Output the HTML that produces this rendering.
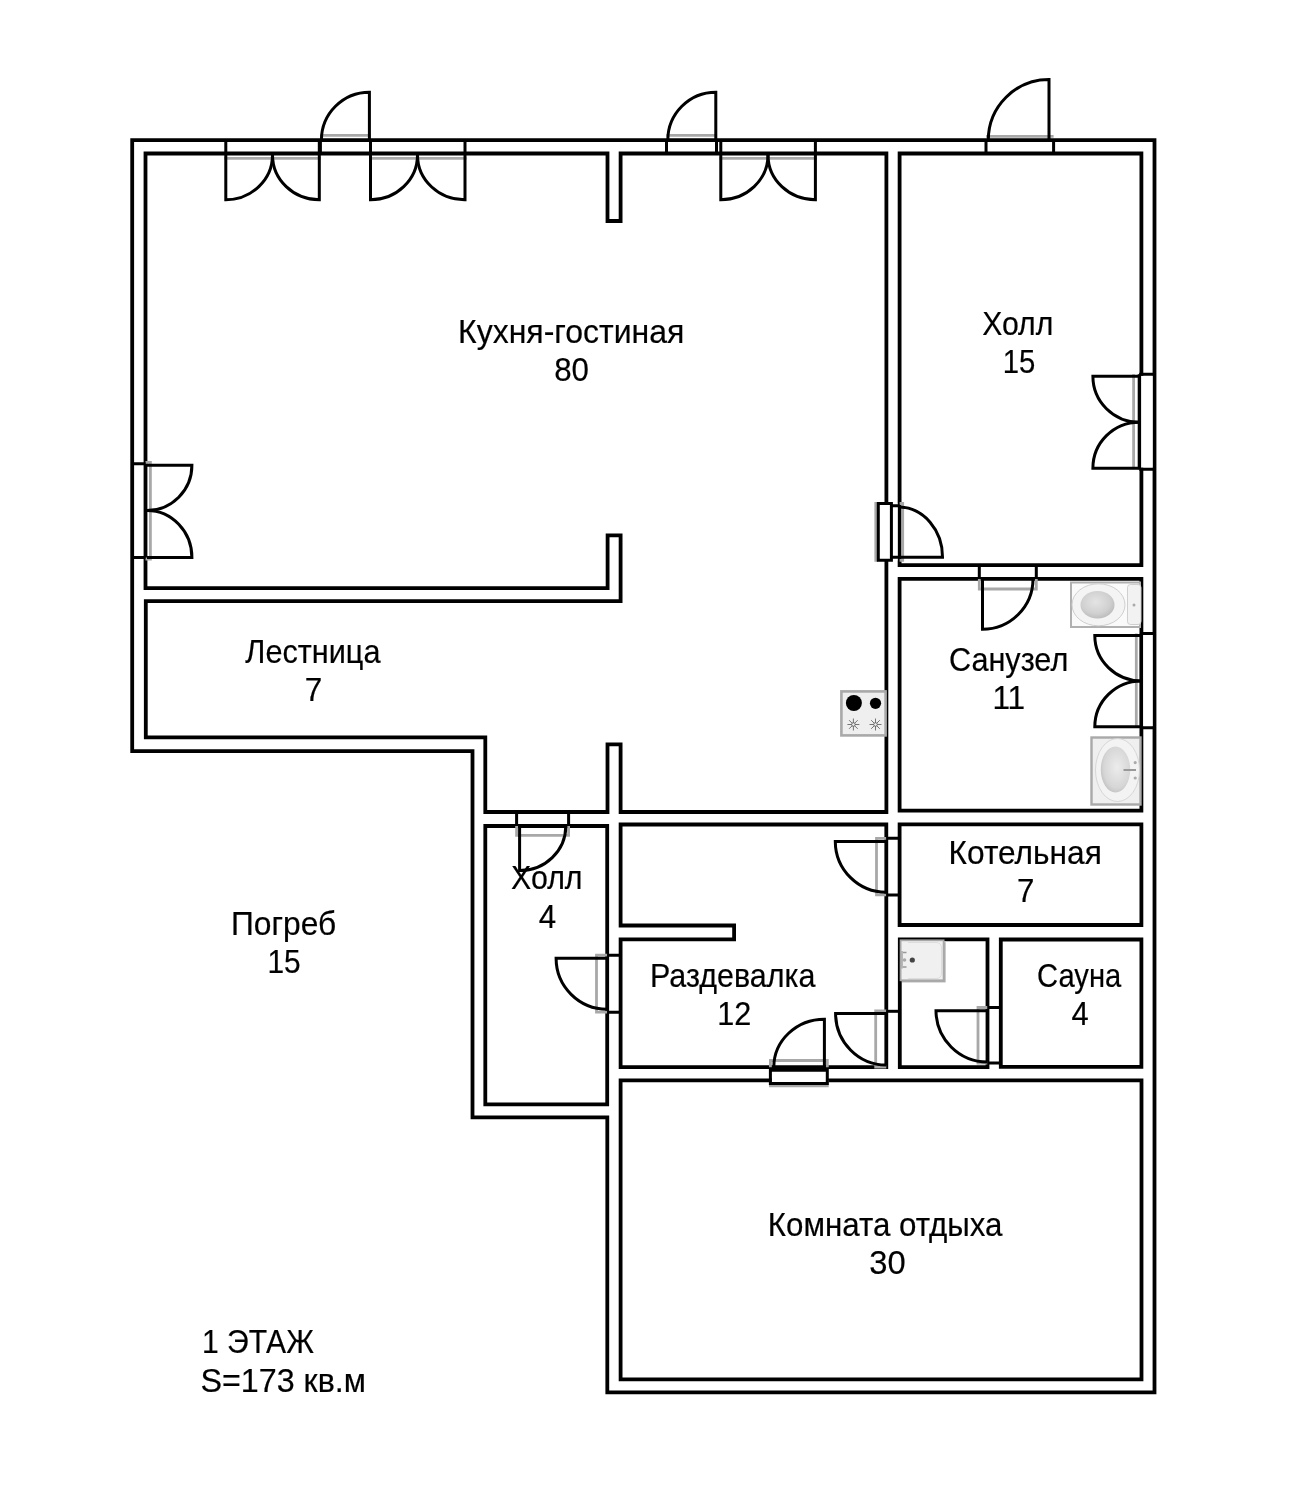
<!DOCTYPE html>
<html><head><meta charset="utf-8"><title>1 этаж</title>
<style>html,body{margin:0;padding:0;background:#fff;} svg{display:block;will-change:transform;}</style>
</head><body>
<svg width="1307" height="1494" viewBox="0 0 1307 1494"><g fill="none" stroke="#000" stroke-width="3.8" stroke-linejoin="miter">
<path d="M132.2,140.2 H1154.5 V1392.3 H607.3 V1117.4 H472.5 V751.2 H132.2 Z"/>
<path d="M145.5,153.5 H607.5 V221 H620.6 V153.5 H886.4 V812 H620.6 V744.4 H607.5 V812 H485.3 V737.3 H145.8 V601.2 H620.6 V535.3 H607.6 V588.2 H145.5 Z"/>
<path d="M899.6,153.5 H1141.4 V565.2 H899.6 Z"/>
<path d="M899.6,578.8 H1141.4 V810.6 H899.6 Z"/>
<path d="M899.6,824.3 H1141.4 V925 H899.6 Z"/>
<path d="M485.3,826 H607.2 V1104.4 H485.3 Z"/>
<path d="M620.6,824.5 H886.3 V1067.2 H620.6 V939.3 H734.1 V925.5 H620.6 Z"/>
<path d="M899.8,939.4 H987.5 V1067.1 H899.8 Z"/>
<path d="M1000.8,939.5 H1141.4 V1066.9 H1000.8 Z"/>
<path d="M620.6,1080.3 H1141.5 V1379.3 H620.6 Z"/>
</g>
<rect x="1141.1000000000001" y="375.8" width="11.499999999999863" height="91.89999999999998" fill="#fff"/>
<rect x="1143.2" y="635.0" width="9.399999999999954" height="91.29999999999995" fill="#fff"/>
<rect x="878" y="503.5" width="19.5" height="57" fill="#fff"/>
<rect x="772" y="1072" width="54" height="10" fill="#fff"/>
<g fill="none" stroke="#a8a8a8" stroke-width="2.8">
<path d="M224.3,158.4 H320.8"/>
<path d="M369.0,158.4 H466.5"/>
<path d="M719.3,158.4 H816.9"/>
<path d="M320.4,135.4 H370.5"/>
<path d="M666.5,135.4 H716.5"/>
<path d="M986.0,136.4 H1053.6"/>
<path d="M145.5,462.3 H150.4 V559.0 H145.5"/>
<path d="M1133.6,374.3 V469.2"/>
<path d="M1136.3,633.5 V727.8"/>
<path d="M878.3,503.5 H875.8 V560.3 H878.3 M899.6,503.5 H902.7 V560.3 H899.6"/>
<path d="M979.3,579 V589 H1036.3 V579"/>
<path d="M516.6,826 V835.4 H568.6 V826"/>
<path d="M607.2,955.2 H596.5 V1012.2 H607.2"/>
<path d="M886.3,838.3 H876.5 V894.9 H886.3"/>
<path d="M886.3,1010.8 H875.7 V1067 H886.3"/>
<path d="M987.5,1007.5 H978 V1063 H987.5"/>
<path d="M770.4,1067.2 V1060.5 H827.3 V1067.2 M770.4,1080 V1085.9 H827.3 V1080"/>
</g>
<g fill="none" stroke="#000" stroke-width="3.0">
<path d="M225.8,140.2 V153.5 M319.3,140.2 V153.5"/>
<path d="M225.8,155 V199.7 A46.69999999999999,44.69999999999999 0 0 0 272.5,155"/>
<path d="M319.3,155 V199.7 A46.69999999999999,44.69999999999999 0 0 1 272.5,155"/>
<path d="M370.5,140.2 V153.5 M465.0,140.2 V153.5"/>
<path d="M370.5,155 V199.7 A47.0,44.69999999999999 0 0 0 417.5,155"/>
<path d="M465.0,155 V199.7 A47.0,44.69999999999999 0 0 1 417.5,155"/>
<path d="M720.8,140.2 V153.5 M815.4,140.2 V153.5"/>
<path d="M720.8,155 V199.7 A47.200000000000045,44.69999999999999 0 0 0 768.0,155"/>
<path d="M815.4,155 V199.7 A47.200000000000045,44.69999999999999 0 0 1 768.0,155"/>
<path d="M320.4,140.2 V153.5 M370.5,140.2 V153.5"/>
<path d="M369.4,141.5 V92.19999999999999 A48,48 0 0 0 321.4,140.2"/>
<path d="M666.5,140.2 V153.5 M716.5,140.2 V153.5"/>
<path d="M715.8,141.5 V92.19999999999999 A48,48 0 0 0 667.8,140.2"/>
<path d="M986.0,140.2 V153.5 M1053.6,140.2 V153.5"/>
<path d="M1049.0,141.5 V79.49999999999999 A60.7,60.7 0 0 0 988.3,140.2"/>
<path d="M132.2,463.8 H145.5 M132.2,557.5 H145.5"/>
<path d="M147,465.3 H191.9 A44.900000000000006,45.19999999999999 0 0 1 147,510.5"/>
<path d="M147,557.5 H191.9 A44.900000000000006,47.0 0 0 0 147,510.5"/>
<path d="M1139.2,374.3 H1154.5 M1139.2,469.2 H1154.5 M1139.2,374.3 V469.2"/>
<path d="M1139.2,376.3 H1092.9 A46.299999999999955,45.89999999999998 0 0 0 1139.2,422.2"/>
<path d="M1139.2,468.2 H1092.9 A46.299999999999955,46.0 0 0 1 1139.2,422.2"/>
<path d="M1141.3,633.5 H1154.5 M1141.3,727.8 H1154.5 M1141.3,633.5 V727.8"/>
<path d="M1141.3,635.5 H1094.8 A46.5,45.39999999999998 0 0 0 1141.3,680.9"/>
<path d="M1141.3,726.8 H1094.8 A46.5,45.89999999999998 0 0 1 1141.3,680.9"/>
<path d="M878.3,503.5 H891.4 V560.3 H878.3 Z"/>
<path d="M891.4,505.8 H899.6 M891.4,557.2 H942.5 A44,50 0 0 0 899.6,507"/>
<path d="M979.3,565.2 V578.8 M1036.3,565.2 V578.8"/>
<path d="M982.5,579 V629.2 A50.5,50.2 0 0 0 1033,579"/>
<path d="M516.6,812 V826 M568.6,812 V826"/>
<path d="M519.6,826 V870.6 A46,44.6 0 0 0 565.8,826"/>
<path d="M607.2,955.2 H620.6 M607.2,1012.2 H620.6"/>
<path d="M607.2,958.3 H556.1 A51,51 0 0 0 607.2,1009.2"/>
<path d="M886.3,838.3 H899.6 M886.3,894.9 H899.6"/>
<path d="M886.3,841.4 H835.3 A51,51 0 0 0 886.3,892.2"/>
<path d="M886.3,1011.3 H899.8"/>
<path d="M886.3,1013.6 H835.6 A50.7,51.5 0 0 0 886.3,1065"/>
<path d="M987.5,1007.5 H1000.8 M987.5,1063 H1000.8"/>
<path d="M987.5,1010.7 H936 A51.5,51.5 0 0 0 987.5,1062"/>
<path d="M770.4,1070.3 H827.3 V1083.4 H770.4 Z"/>
<path d="M824.4,1067.2 V1019.2 A50.6,48 0 0 0 773.8,1067.2"/>
</g>
<rect x="841.4" y="691.4" width="44.2" height="44" fill="#efefef" stroke="#a9a9a9" stroke-width="2.6"/>
<circle cx="853.9" cy="703" r="8" fill="#000"/><circle cx="875.5" cy="703.3" r="5.6" fill="#000"/>
<g stroke="#555" stroke-width="0.8" fill="none"><path d="M847.4,724.5 H859.4 M853.4,718.5 V730.5 M849.1,720.2 L857.6999999999999,728.8 M849.1,728.8 L857.6999999999999,720.2"/><circle cx="853.4" cy="724.5" r="1.8" fill="#eee"/></g>
<g stroke="#555" stroke-width="0.8" fill="none"><path d="M869.5,724.5 H881.5 M875.5,718.5 V730.5 M871.2,720.2 L879.8,728.8 M871.2,728.8 L879.8,720.2"/><circle cx="875.5" cy="724.5" r="1.8" fill="#eee"/></g>
<rect x="1071" y="582.5" width="69" height="44.5" fill="#fafafa" stroke="#b0b0b0" stroke-width="2"/>
<defs><radialGradient id="bowl" cx="0.45" cy="0.4" r="0.6"><stop offset="0" stop-color="#e4e4e4"/><stop offset="0.7" stop-color="#d0d0d0"/><stop offset="1" stop-color="#bdbdbd"/></radialGradient><radialGradient id="sinkg" cx="0.55" cy="0.45" r="0.6"><stop offset="0" stop-color="#ececec"/><stop offset="0.75" stop-color="#d6d6d6"/><stop offset="1" stop-color="#c0c0c0"/></radialGradient></defs>
<rect x="1127.5" y="584.5" width="13.5" height="40" rx="3" fill="#f2f2f2" stroke="#cfcfcf" stroke-width="1"/>
<circle cx="1134" cy="605" r="1.5" fill="#aaa"/>
<ellipse cx="1098.5" cy="604.8" rx="26.5" ry="21" fill="#f4f4f4" stroke="#cfcfcf" stroke-width="1"/>
<ellipse cx="1097.5" cy="604.8" rx="17" ry="13.8" fill="url(#bowl)"/>
<rect x="1091.5" y="737.5" width="49" height="67" fill="#efefef" stroke="#a9a9a9" stroke-width="2.4"/>
<ellipse cx="1117.5" cy="770" rx="22" ry="31.5" fill="#f3f3f3" stroke="#cfcfcf" stroke-width="0.8"/>
<ellipse cx="1115.5" cy="769.5" rx="14.7" ry="23" fill="url(#sinkg)"/>
<path d="M1123.5,770 H1136" stroke="#999" stroke-width="2"/>
<circle cx="1135.2" cy="762.6" r="1.6" fill="#aaa"/><circle cx="1135.2" cy="778" r="1.6" fill="#aaa"/>
<rect x="902" y="942.2" width="43.6" height="40.2" fill="#ababab"/>
<rect x="900.6" y="940.3" width="43" height="40" fill="#f0f0f0" stroke="#a8a8a8" stroke-width="1.8"/>
<path d="M908,942.5 H936 Q941.5,942.5 941.5,948 V973 Q941.5,978.5 936,978.5 H908" fill="none" stroke="#d8d8d8" stroke-width="0.8"/>
<circle cx="912.3" cy="960" r="2.6" fill="#444"/>
<path d="M902,951 V968.4" stroke="#b0b0b0" stroke-width="1.8"/><path d="M903,952.5 H906.5 M903,967 H906.5" stroke="#999" stroke-width="1.6"/><circle cx="904.5" cy="960" r="1.8" fill="#aaa"/>
<g font-family="Liberation Sans, sans-serif" fill="#000" stroke="#000" stroke-width="0.2" stroke-linejoin="round" font-size="33">
<text x="458.09" y="342.8" textLength="226.3" lengthAdjust="spacingAndGlyphs">Кухня-гостиная</text>
<text x="554.15" y="381.3" textLength="34.77" lengthAdjust="spacingAndGlyphs">80</text>
<text x="982.19" y="334.9" textLength="71.14" lengthAdjust="spacingAndGlyphs">Холл</text>
<text x="1002.82" y="373.0" textLength="32.6" lengthAdjust="spacingAndGlyphs">15</text>
<text x="245.3" y="663.0" textLength="135.18" lengthAdjust="spacingAndGlyphs">Лестница</text>
<text x="304.79" y="700.7" textLength="17.5" lengthAdjust="spacingAndGlyphs">7</text>
<text x="948.94" y="671.1" textLength="119.34" lengthAdjust="spacingAndGlyphs">Санузел</text>
<text x="992.38" y="708.7" textLength="32.83" lengthAdjust="spacingAndGlyphs">11</text>
<text x="948.62" y="864.2" textLength="153.15" lengthAdjust="spacingAndGlyphs">Котельная</text>
<text x="1017.11" y="902.0" textLength="17.38" lengthAdjust="spacingAndGlyphs">7</text>
<text x="231.01" y="934.8" textLength="105.19" lengthAdjust="spacingAndGlyphs">Погреб</text>
<text x="267.39" y="973.1" textLength="33.27" lengthAdjust="spacingAndGlyphs">15</text>
<text x="511.08" y="889.0" textLength="71.46" lengthAdjust="spacingAndGlyphs">Холл</text>
<text x="538.65" y="928.0" textLength="17.39" lengthAdjust="spacingAndGlyphs">4</text>
<text x="650.03" y="986.6" textLength="165.36" lengthAdjust="spacingAndGlyphs">Раздевалка</text>
<text x="717.35" y="1024.9" textLength="34.05" lengthAdjust="spacingAndGlyphs">12</text>
<text x="1037.03" y="986.7" textLength="84.22" lengthAdjust="spacingAndGlyphs">Сауна</text>
<text x="1071.56" y="1024.8" textLength="17.17" lengthAdjust="spacingAndGlyphs">4</text>
<text x="767.86" y="1236.1" textLength="234.66" lengthAdjust="spacingAndGlyphs">Комната отдыха</text>
<text x="869.21" y="1273.5" textLength="36.39" lengthAdjust="spacingAndGlyphs">30</text>
<text x="201.98" y="1353.1" textLength="112.05" lengthAdjust="spacingAndGlyphs">1 ЭТАЖ</text>
<text x="200.44" y="1392.0" textLength="165.55" lengthAdjust="spacingAndGlyphs">S=173 кв.м</text>
</g></svg>
</body></html>
